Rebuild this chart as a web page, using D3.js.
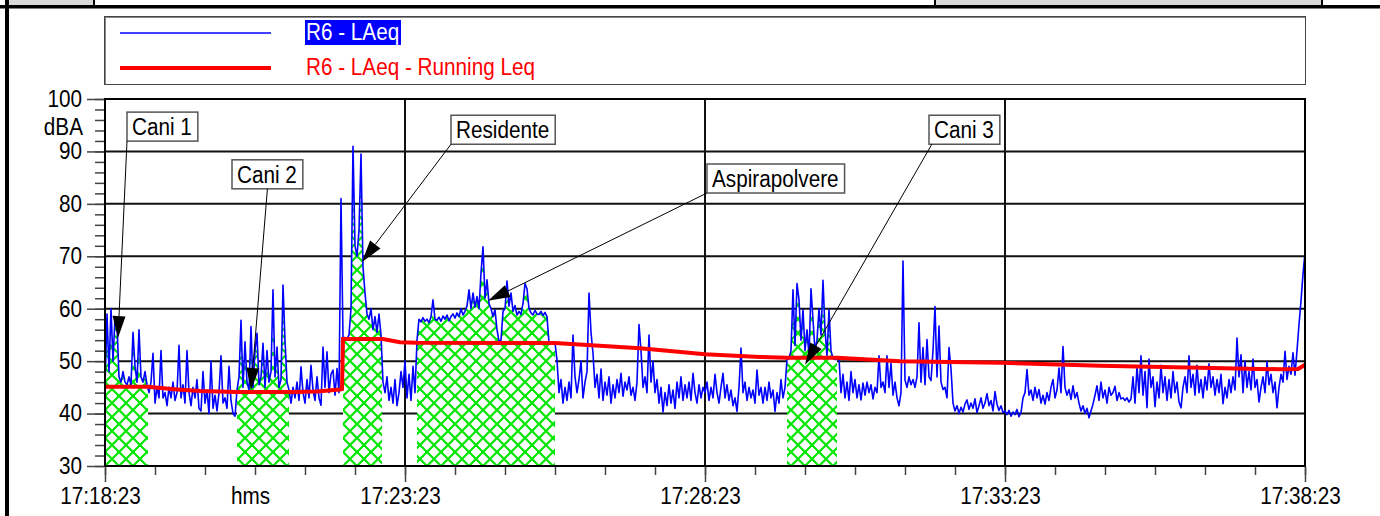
<!DOCTYPE html>
<html><head><meta charset="utf-8">
<script src="https://cdn.jsdelivr.net/npm/d3@7"></script>
<style>
body{margin:0;background:#fff;}
svg text{font-family:"Liberation Sans",Arial,sans-serif;}
</style>
</head><body>
<svg id="c" width="1380" height="516"></svg>
<script>
// ---------------- DATA ----------------
const stepSeconds = 2; // LAeq sampled every 2 s from 17:18:23
const laeq = [
45,59,48,60,50,58.5,57,47,46,48,46,45.5,47,45.5,55.5,49,46,56,47,46,48,45.5,44,46,51.5,42,45,43,52,43,
44,41.5,45,43,46,42.5,44,53,43,45.5,42,52,44,41.5,45,43,46.5,41,40.5,48,42,44.5,40,50,41,43.5,40.5,44,51,42,
43,41,49,42.5,40,39.5,44.5,47,57.8,45,53.7,46,44.5,56.6,45,52,55.3,45.5,47,53.4,45,52,46,48,63.6,47,52.7,45,46.5,64.5,
54,46,44.5,42,45,43,46,42.5,48.9,44,42,46.5,43,49.2,44.5,42.5,47,43,41.6,52.7,45,51.8,44,47.5,48.3,43.5,48.6,44,81,54.5,
54.5,54.3,55,60,91,72,70,75,89.5,68,63,59,58,60,56,58.5,55.5,59,55,46,44,47,42.5,45,42,46.5,41.5,44,48,45,
50,43,47.5,42.5,49,44,54,58,57.5,58.3,57.6,58,57.3,58.5,61.7,58,57.8,58.4,57.6,58.6,58,58.8,57.7,58.5,59,58.2,59.2,58.5,60,58.8,
59.5,60.5,63.6,60,63,60.3,62.3,60,66.8,71.8,62,65.5,61,60,58.5,59.8,56,53.8,54,59.5,60,65.3,60.5,63,59.5,60.6,58.8,59.5,58.9,61,
64.8,63.8,60,59.2,58.8,59.7,59,58.9,59.5,58.7,59.3,58.5,53.5,53.5,53.5,53.5,50.2,44,46.5,42,45,42.5,46,43,55,47,44,46.5,50,43,
46,48,63,55.5,51.5,45,47.5,43,48.5,42.5,46,43.5,47,42,45.5,43,46.5,44,47.7,43.3,46,44.5,47,43.5,45,42.5,46,57,52,45,
47,44,55,46,50,44,46.5,42,45,40.3,44,41.5,45.5,42,44.5,41,46,43,47,42.5,45.5,43,46,42.5,47.7,44,42,45.5,43,45,
44,46,42.5,45,43,47.5,44,42,45,47.7,43,45.5,42.5,44.5,41.5,43,40.4,45,52.5,44,46,42.5,45,43,44.5,42,48.3,43.5,45,42,
45,42.5,46,43,44.5,40.4,44,42,46.5,43,45,50.3,50.5,52,63.6,53,64.8,61.7,54,59.8,52,56,51,63.8,57.9,52,54,60,55,65.4,
56,51,59.8,52,50.5,50.3,50.3,50.5,44,47.5,43,46,42.5,48,44,46.5,43,45.5,42.6,45.8,43.5,46,44,45.5,42.8,45,44,51,45,46,
44,51,45,49.6,43.5,46,43,41.5,44,69.1,46.4,45,47,45.5,46.5,45,47,57.3,46,52.6,45.5,54.1,47,46.3,52,60.4,47,56.7,46,44.6,
45,43,52.6,48.5,42,40.5,41.5,40,41.2,40.3,41.8,42.6,40.8,42,41,42.8,40.2,41.5,43,41,42,43.8,41.5,42.5,40.5,44.2,41.8,40.6,41.5,40.2,
40.5,39.8,40.6,39.5,40.3,39.8,40.8,39.4,40.2,43,44,48.4,43.5,44.5,42.5,45,43,44.6,42,43.5,41.8,44,42.5,45,46.5,43,44.5,48.7,44,52.8,
45,43.5,44.6,42.7,45.3,43,44,42,40.5,41.5,40,41,39.2,40.5,41.8,43.5,45.3,42.5,46,43,44.5,42,45,43.5,44,45.2,42.5,44,42.8,43,
42.5,43,42.2,42.8,47,42,49,44,51,43.5,48,41.1,50.4,45,47,41.3,46,43,49.2,44,47,42.5,46.5,43,48,44,46,42.2,41.1,45,
47,44,51,45,47.5,43.5,49.2,44,46.5,43,47,44.5,49.5,45,47,43.5,46.5,44,47.5,41.9,45,43,46.5,44,47,44.5,54.4,47,51.2,44,
50,45,48,44.5,50.4,45,46.5,42.2,45,47,44,49.9,45.5,47.5,44,46,41.1,45,47.5,46,51.9,46.5,49,47.5,51.6,47.3,52,57,61.5,66.6,
70.7
];
// Running Leq (seconds from start, dBA)
const leqT = [0,43,72,95,132,184,212,235,237,238,278,295,312,450,535,600,655,682,732,795,895,995,1095,1175,1193,1200];
const leqV = [45.1,45.1,44.6,44.3,44.1,44.1,44.2,44.6,44.7,54.2,54.2,53.6,53.5,53.45,52.45,51.3,50.8,50.65,50.65,50.0,49.7,49.13,48.75,48.44,48.5,49.3];
// Marked (hatched) intervals, seconds from start
const markStart = [0,132,238,312,682];
const markEnd   = [43,184,277,450,732];
const markFloor = [45.1,44.1,54.2,53.5,50.65];
// Annotations
const annLabels = ["Cani 1","Cani 2","Residente","Aspirapolvere","Cani 3"];
const annBoxT = [22,127,346,602,824];
const annBoxV = [97.5,88.4,96.9,87.6,96.9];
const annTipT = [13,146,257,383,700];
const annTipV = [54.4,44.5,68.9,61.5,49.3];
const annAnchor = [0,0.5,0,0,0.04];
// Axes
const yTicks = [30,40,50,60,70,80,90,100];
const xMajor = [0,300,600,900,1200];
const xLabelT = [0,150,300,600,900,1200];
const xLabels = ["17:18:23","hms","17:23:23","17:28:23","17:33:23","17:38:23"];
const seriesNames = ["R6 - LAeq","R6 - LAeq - Running Leq"];
const seriesColors = ["#0000ff","#ff0000"];

// ---------------- DRAW ----------------
const svg = d3.select("#c");
const FS = "23px";
const SQ = 0.9; // horizontal condensing of the font
function condense(sel){
  sel.each(function(){
    const w = this.getComputedTextLength();
    if(w>0){
      d3.select(this).attr("data-w",w*SQ).attr("textLength",w*SQ).attr("lengthAdjust","spacingAndGlyphs");
    }
  });
}
const x = d3.scaleLinear().domain([0,1200]).range([105,1305]);
const y = d3.scaleLinear().domain([30,100]).range([466,99]);

// top strip & borders
svg.append("rect").attr("x",9).attr("y",0).attr("width",85).attr("height",5).attr("fill","#d9d9d9");
svg.append("rect").attr("x",935).attr("y",0).attr("width",386).attr("height",5).attr("fill","#d9d9d9");
[94,935,1322].forEach(px=>svg.append("line").attr("x1",px).attr("x2",px).attr("y1",0).attr("y2",6).attr("stroke","#000").attr("stroke-width",2));
svg.append("rect").attr("x",0).attr("y",5).attr("width",1380).attr("height",3.5).attr("fill","#000");
svg.append("rect").attr("x",5).attr("y",0).attr("width",4).attr("height",516).attr("fill","#000");

// legend
svg.append("rect").attr("x",105.5).attr("y",17.5).attr("width",1200).attr("height",67).attr("fill","none").attr("stroke","#888").attr("stroke-width",1);
svg.append("rect").attr("x",104.5).attr("y",16.5).attr("width",1201).attr("height",68).attr("fill","none").attr("stroke","#444").attr("stroke-width",1);
const legY = [33,68];
seriesNames.forEach((nm,i)=>{
  svg.append("line").attr("x1",120).attr("x2",271).attr("y1",legY[i]).attr("y2",legY[i])
    .attr("stroke",seriesColors[i]).attr("stroke-width",i===0?1.5:4);
  if(i===0){
    svg.append("rect").attr("x",305).attr("y",20).attr("width",96).attr("height",25).attr("fill",seriesColors[0]);
  }
  svg.append("text").attr("x",306).attr("y",legY[i]+7).attr("font-size",FS)
    .attr("fill",i===0?"#fff":seriesColors[1]).text(nm).call(condense);
});

// defs
const defs = svg.append("defs");
const pat = defs.append("pattern").attr("id","hatch").attr("patternUnits","userSpaceOnUse")
  .attr("width",14).attr("height",14).attr("x",105).attr("y",466);
pat.append("rect").attr("width",14).attr("height",14).attr("fill","#fff");
pat.append("path").attr("d","M0,0L14,14M14,0L0,14").attr("stroke","#00e600").attr("stroke-width",2.2);
defs.append("clipPath").attr("id","plotclip").append("rect")
  .attr("x",x(0)).attr("y",y(100)).attr("width",x(1200)-x(0)).attr("height",y(30)-y(100));

// grid
const grid = svg.append("g");
grid.selectAll("line.h").data(yTicks.slice(1,-1)).join("line")
  .attr("x1",x(0)).attr("x2",x(1200)).attr("y1",d=>y(d)).attr("y2",d=>y(d))
  .attr("stroke","#111").attr("stroke-width",2);
grid.selectAll("line.v").data(xMajor.slice(1,-1)).join("line")
  .attr("x1",d=>x(d)).attr("x2",d=>x(d)).attr("y1",y(100)).attr("y2",y(30))
  .attr("stroke","#111").attr("stroke-width",2);

// series
const series = laeq.map((v,i)=>({t:i*stepSeconds,v}));
const area = d3.area().x(d=>x(d.t)).y0(y(30)).y1(d=>y(d.v));
const plot = svg.append("g").attr("clip-path","url(#plotclip)");
markStart.forEach((s,k)=>{
  const e = markEnd[k], f = markFloor[k];
  const pts = [{t:s,v:f}].concat(series.filter(p=>p.t>s && p.t<e).map(p=>({t:p.t,v:Math.max(p.v,f)})), [{t:e,v:f}]);
  plot.append("path").datum(pts).attr("d",area).attr("fill","url(#hatch)");
});
plot.append("path").datum(series).attr("d",d3.line().x(d=>x(d.t)).y(d=>y(d.v)))
  .attr("fill","none").attr("stroke",seriesColors[0]).attr("stroke-width",1.6).attr("stroke-linejoin","round");
const leq = leqT.map((t,i)=>({t,v:leqV[i]}));
plot.append("path").datum(leq).attr("d",d3.line().x(d=>x(d.t)).y(d=>y(d.v)))
  .attr("fill","none").attr("stroke",seriesColors[1]).attr("stroke-width",4);

// frame
svg.append("rect").attr("x",x(0)).attr("y",y(100)).attr("width",x(1200)-x(0)).attr("height",y(30)-y(100))
  .attr("fill","none").attr("stroke","#000").attr("stroke-width",2);

// axes
function styleAxis(g){
  g.select(".domain").remove();
  g.selectAll("line").attr("stroke","#444").attr("stroke-width",1.5);
  g.selectAll("text").attr("font-size",FS).attr("font-family","Liberation Sans, Arial, sans-serif").attr("fill","#000").call(condense);
}
svg.append("g").attr("transform",`translate(${x(0)-1},0)`)
  .call(d3.axisLeft(y).tickValues(d3.range(30,101,2)).tickSize(9).tickFormat(""))
  .call(styleAxis);
svg.append("g").attr("transform",`translate(${x(0)-1},0)`)
  .call(d3.axisLeft(y).tickValues(yTicks).tickSize(17).tickPadding(5))
  .call(styleAxis);
svg.append("text").attr("x",83).attr("y",135).attr("text-anchor","end").attr("font-size",FS).text("dBA").call(condense);

svg.append("g").attr("transform",`translate(0,${y(30)+1})`)
  .call(d3.axisBottom(x).tickValues(d3.range(0,1201,50)).tickSize(8).tickFormat(""))
  .call(styleAxis);
svg.append("g").attr("transform",`translate(0,${y(30)+1})`)
  .call(d3.axisBottom(x).tickValues(xMajor).tickSize(15).tickFormat(""))
  .call(styleAxis);
svg.append("g").attr("transform",`translate(-5,${y(30)+1})`)
  .call(d3.axisBottom(x).tickValues(xLabelT).tickSize(0).tickPadding(21).tickFormat((d,i)=>xLabels[i]))
  .call(styleAxis);

// annotations
const ann = svg.append("g");
annLabels.forEach((lab,k)=>{
  const bx = x(annBoxT[k]), by = y(annBoxV[k]);
  const t = ann.append("text").attr("x",bx+5).attr("y",by+23).attr("font-size",FS).text(lab).call(condense);
  const tw = +t.attr("data-w");
  const bw = tw+11, bh = 29;
  ann.insert("rect","text").attr("x",bx).attr("y",by).attr("width",bw).attr("height",bh)
    .attr("fill","#fff").attr("stroke","#555").attr("stroke-width",1.5);
  const sx = bx + annAnchor[k]*bw, sy = by + bh;
  const tx = x(annTipT[k]), ty = y(annTipV[k]);
  const dx = tx-sx, dy = ty-sy, L = Math.hypot(dx,dy);
  const ux = dx/L, uy = dy/L, hl = 22, hw = 6.5;
  const cx = tx-ux*hl, cy = ty-uy*hl;
  ann.append("line").attr("x1",sx).attr("y1",sy).attr("x2",cx).attr("y2",cy).attr("stroke","#000").attr("stroke-width",1);
  ann.append("path").attr("d",`M${tx},${ty}L${cx-uy*hw},${cy+ux*hw}L${cx+uy*hw},${cy-ux*hw}Z`).attr("fill","#000");
});
</script>
</body></html>
